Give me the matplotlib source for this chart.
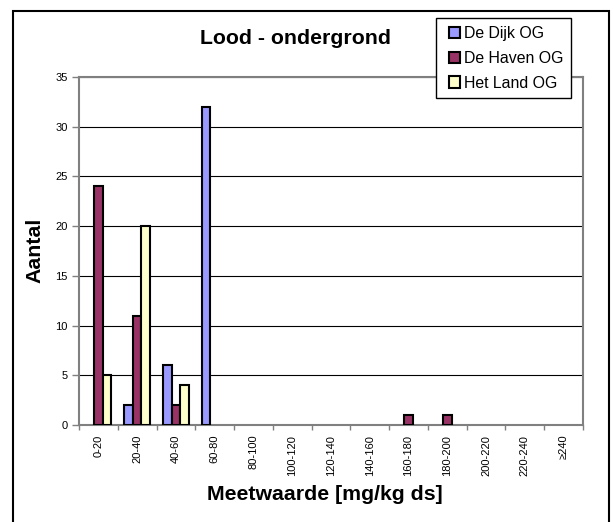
import matplotlib
matplotlib.use("Agg")
import matplotlib.pyplot as plt
import numpy as np
from matplotlib.patches import Rectangle, Patch
from matplotlib.legend_handler import HandlerBase

plt.rcParams['font.family'] = ['Liberation Sans', 'DejaVu Sans']

categories = ["0-20", "20-40", "40-60", "60-80", "80-100", "100-120", "120-140",
              "140-160", "160-180", "180-200", "200-220", "220-240", "≥240"]
de_dijk = [0, 2, 6, 32, 0, 0, 0, 0, 0, 0, 0, 0, 0]
de_haven = [24, 11, 2, 0, 0, 0, 0, 0, 1, 1, 0, 0, 0]
het_land = [5, 20, 4, 0, 0, 0, 0, 0, 0, 0, 0, 0, 0]
series_names = ["De Dijk OG", "De Haven OG", "Het Land OG"]
colors = ["#9999FF", "#993366", "#FFFFCC"]

W, H = 613, 522
fig = plt.figure(figsize=(W / 100, H / 100), dpi=100)
ax = fig.add_axes([79 / W, 1 - 425 / H, (583 - 79) / W, (425 - 77) / H])

x = np.arange(len(categories))
bw = 1 / 4.5
for k, (vals, col) in enumerate(zip([de_dijk, de_haven, het_land], colors)):
    lws = [1.5 if v > 0 else 0 for v in vals]
    ax.bar(x + (k - 1) * bw, vals, width=bw, color=col, edgecolor="black",
           linewidth=lws, zorder=3)

ax.set_xlim(-0.5, len(categories) - 0.5)
ax.set_ylim(0, 35)
ax.set_yticks(np.arange(0, 36, 5))
ax.yaxis.grid(True, color="black", linewidth=0.8, zorder=1)
ax.set_axisbelow(True)

ax.set_xticks(x)
ax.set_xticklabels(categories, rotation=90, fontsize=8)
ax.set_xticks(np.arange(-0.5, len(categories), 1), minor=True)
ax.tick_params(axis="x", which="major", length=0, pad=7)
ax.tick_params(axis="x", which="minor", length=3.5, width=1, color="#808080")
ax.tick_params(axis="y", length=5, width=1, color="#808080", labelsize=8, pad=3)

for s in ax.spines.values():
    s.set_color("#808080")
    s.set_linewidth(1.5)

fig.text(296 / W, 1 - 39 / H, "Lood - ondergrond", ha="center", va="center",
         fontsize=15.3, fontweight="bold")
fig.text(325 / W, 1 - 495 / H, "Meetwaarde [mg/kg ds]", ha="center", va="center",
         fontsize=15.3, fontweight="bold")
fig.text(35 / W, 1 - 250 / H, "Aantal", ha="center", va="center",
         fontsize=15.3, fontweight="bold", rotation=90)


class SquareHandler(HandlerBase):
    def create_artists(self, legend, orig_handle, xdescent, ydescent,
                       width, height, fontsize, trans):
        side = height
        r = Rectangle((width - side - xdescent, -ydescent), side, side,
                      facecolor=orig_handle.get_facecolor(),
                      edgecolor="black", linewidth=1.5, transform=trans)
        return [r]


handles = [Patch(facecolor=c, edgecolor="black", linewidth=1.5) for c in colors]
leg = fig.legend(handles, series_names, loc="upper left",
                 bbox_to_anchor=(436 / W, 1 - 18 / H), fontsize=11.4,
                 handlelength=1.0, handleheight=0.7, handletextpad=0.25,
                 labelspacing=0.62, borderpad=0.5, borderaxespad=0,
                 fancybox=False, framealpha=1, edgecolor="black",
                 handler_map={Patch: SquareHandler()})
leg.get_frame().set_linewidth(1.0)

fig.patches.append(Rectangle((13 / W, -0.1), (609 - 13) / W, 1.1 - 11 / H,
                             transform=fig.transFigure, fill=False,
                             edgecolor="black", linewidth=1.5))

fig.savefig("out.png", dpi=100)
